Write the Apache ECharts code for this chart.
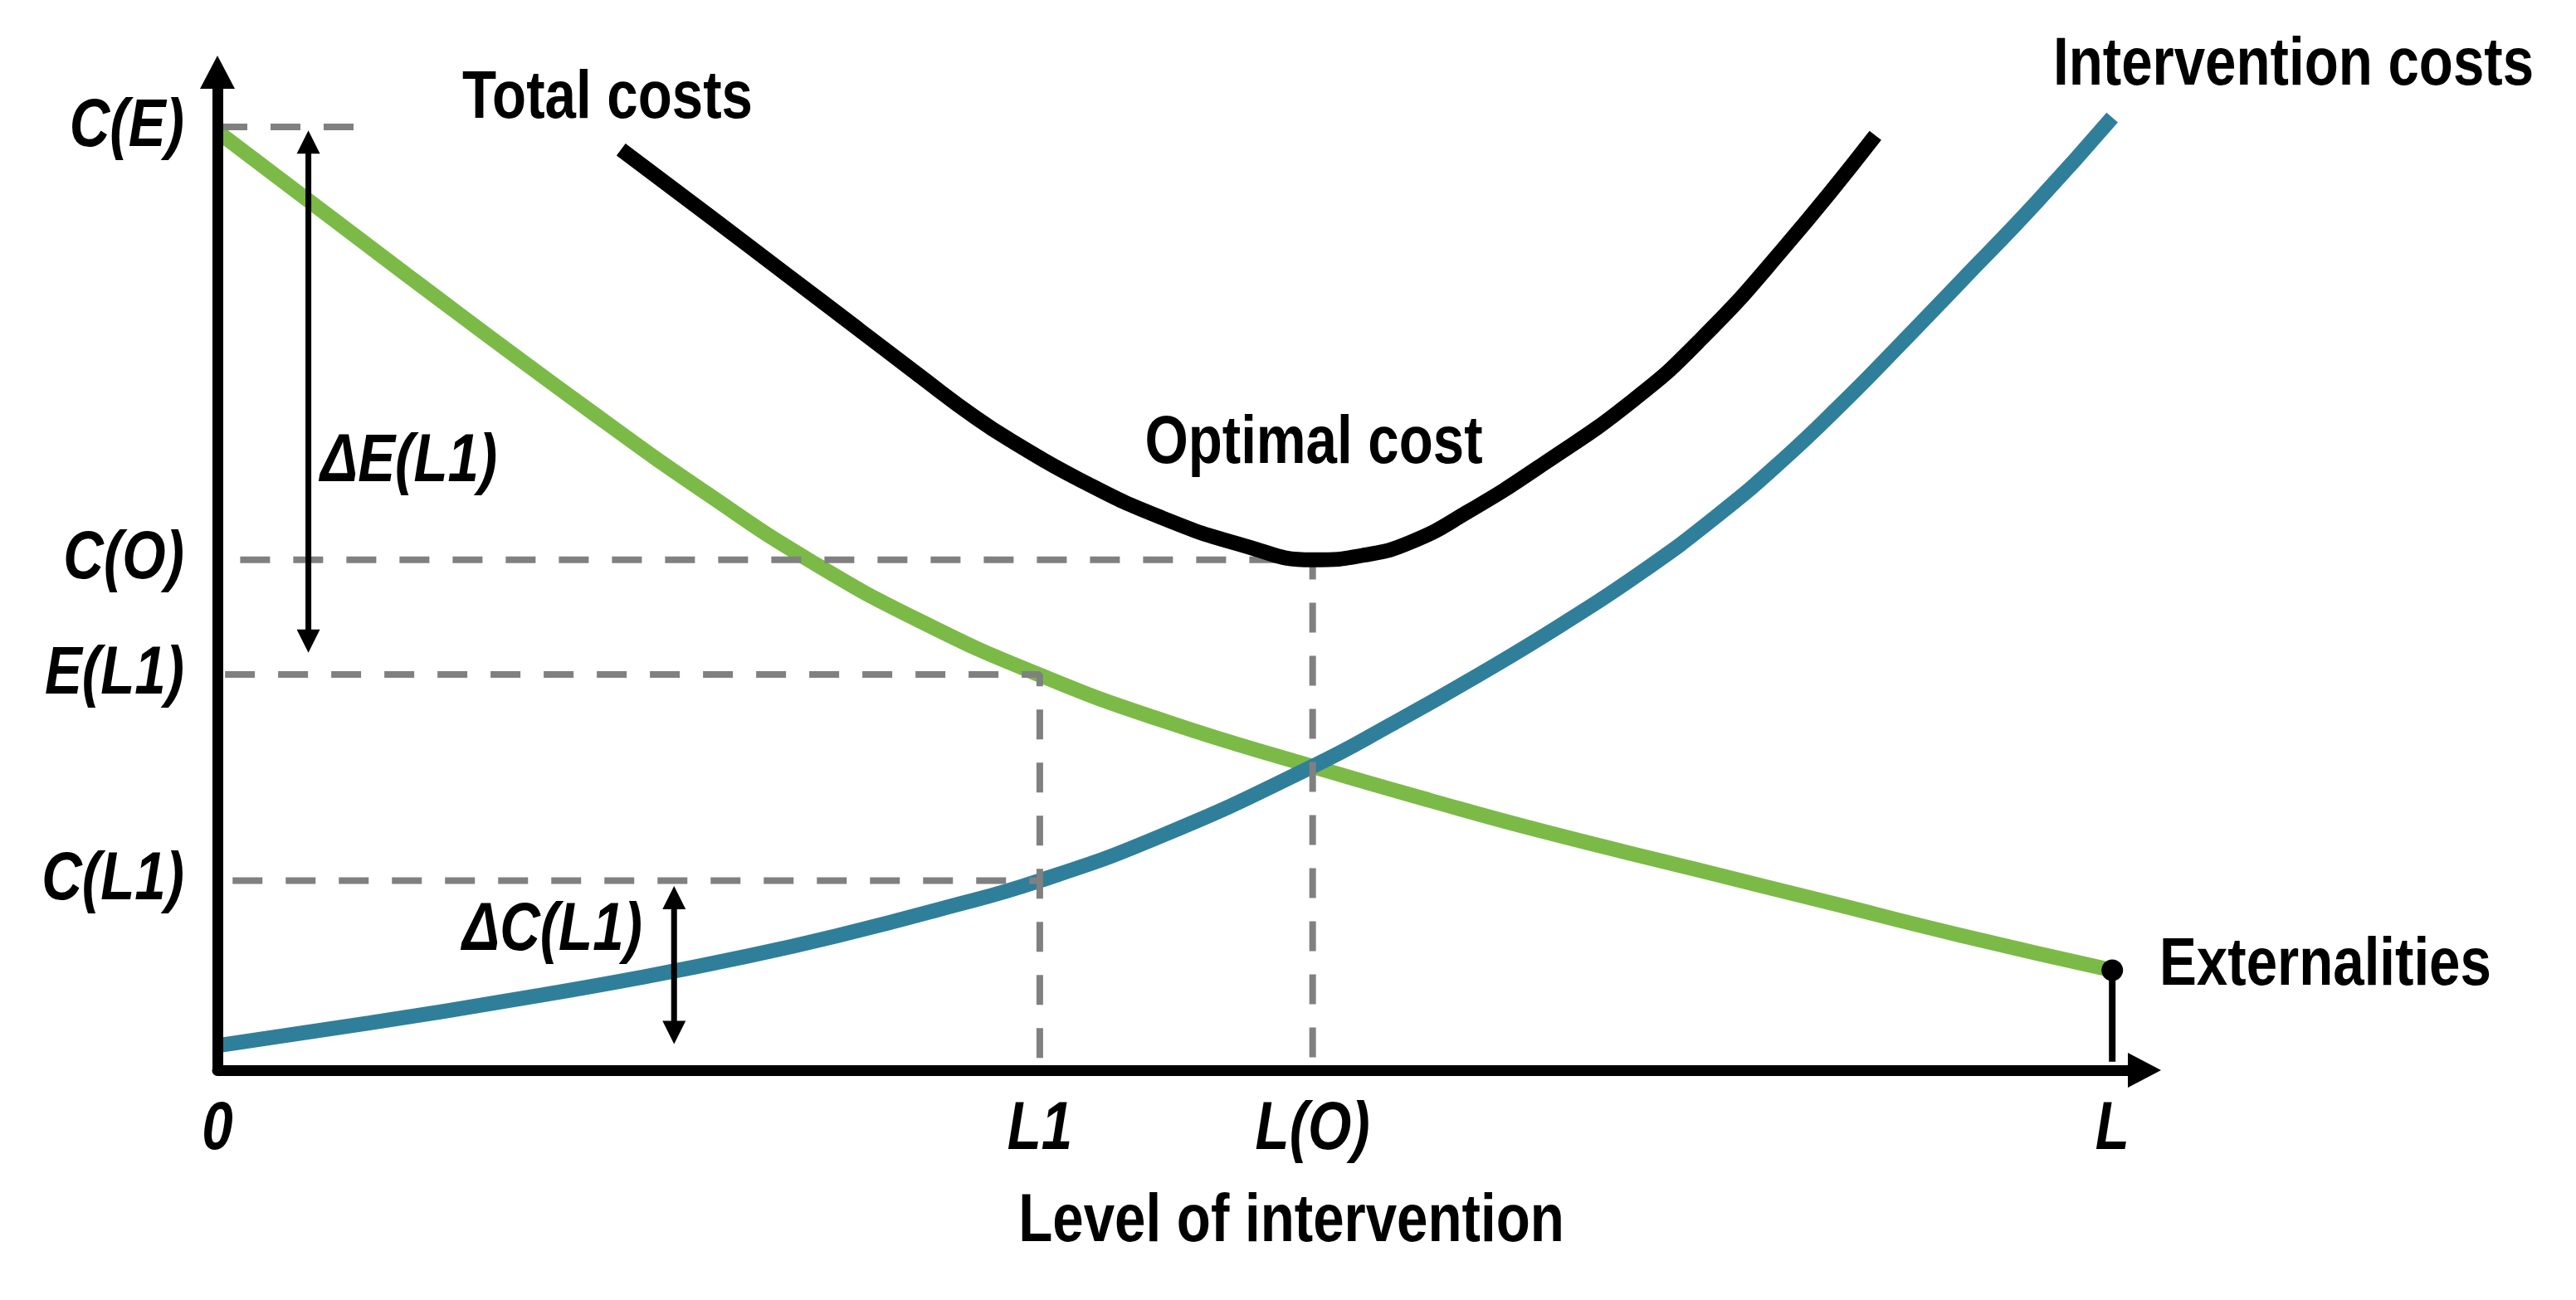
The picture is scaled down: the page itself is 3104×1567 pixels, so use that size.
<!DOCTYPE html>
<html>
<head>
<meta charset="utf-8">
<script src="https://cdn.jsdelivr.net/npm/echarts@6/dist/echarts.min.js"></script>
<style>
html,body{margin:0;padding:0;background:#fff;}
#chart{width:3104px;height:1567px;}
</style>
</head>
<body>
<div id="chart"></div>
<script>
// ---------- data ----------
const xTickValues = [0, 43.4, 57.8, 100];
const xTickLabels = ['0', 'L1', 'L(O)', 'L'];
const yTickValues = [100, 54.1, 41.95, 20.1];
const yTickLabels = ['C(E)', 'C(O)', 'E(L1)', 'C(L1)'];

const extX = [0, 10, 20, 26, 31.2, 37, 43.4, 50, 57.8, 64, 70, 78, 85, 92, 100];
const extY = [99.5, 84.3, 69.4, 60.9, 54.1, 47.7, 41.9, 37.0, 32.2, 28.6, 25.3, 21.3, 17.8, 14.3, 10.6];

const intX = [0, 8, 16, 22.25, 28, 33, 38, 43.4, 50, 57.8, 62, 66.6, 71, 75.3, 79.1, 82.5, 85.8, 88.5, 92, 96, 100];
const intY = [2.6, 5.0, 7.6, 9.8, 12.1, 14.4, 17.0, 20.1, 25.0, 32.2, 36.7, 41.95, 47.3, 53.0, 58.7, 64.5, 70.8, 76.3, 83.6, 92.0, 101.0];

const totX = [21.3, 26, 30, 33.8, 37, 40, 42, 45.5, 49.8, 54.2, 57.8, 60.5, 63, 66, 70, 74.7, 78.3, 82.6, 87.5];
const totY = [97.6, 90.5, 84.4, 78.6, 73.7, 69.2, 66.6, 62.6, 58.6, 55.6, 54.1, 54.6, 56.0, 59.2, 64.3, 71.0, 77.5, 87.0, 99.1];

// dashed guides: start x of each horizontal guide (C(E), C(O), E(L1), C(L1))
const guideStartX = [0, 1.2, 0.4, 0.8];
const guideEndCE = 7.2;
const guideBottom = 0.8;

// double arrows (x position, [lower, upper] arrow-head centres)
const dEx = 4.8, dEy = [45.5, 98.4];
const dCx = 24.1, dCy = [4.0, 18.3];
const stemBottom = 0.9;

// ---------- style ----------
const FONT = '"Liberation Sans", Arial, Helvetica, sans-serif';
const NARROW = 0.82;  // Arial-Narrow-like condensing
const GREEN = '#7BBA47', BLUE = '#2F7F9B', GREY = '#808080';
const DASH = [36, 28];

const pairs = (xs, ys) => xs.map((x, i) => [x, ys[i]]);
const [L1, LO, L] = [xTickValues[1], xTickValues[2], xTickValues[3]];
const [CE, CO, EL1, CL1] = yTickValues;

const dashSeries = (data) => ({
  type: 'line', data, showSymbol: false, silent: true, z: 3,
  lineStyle: { color: GREY, width: 8, type: DASH, cap: 'butt' }
});

const arrowSeries = (x, ys) => ({
  type: 'line', silent: true, z: 6,
  data: [
    { value: [x, ys[0]], symbol: 'triangle', symbolRotate: 180 },
    { value: [x, ys[1]], symbol: 'triangle', symbolRotate: 0 }
  ],
  showSymbol: true, symbolSize: [28, 28],
  itemStyle: { color: '#000', borderWidth: 0 },
  lineStyle: { color: '#000', width: 7 }
});

const curve = (name, xs, ys, color, z) => ({
  type: 'line', name, data: pairs(xs, ys), smooth: 0.5,
  showSymbol: false, silent: true, z, lineStyle: { color, width: 18, cap: 'butt' }
});

const txt = (text, x, y, align, italic) => ({
  type: 'text', x, y, z: 20, silent: true, scaleX: NARROW,
  style: { text, align, verticalAlign: 'middle', fontFamily: FONT, fontSize: 82,
           fontWeight: 'bold', fontStyle: italic ? 'italic' : 'normal', fill: '#000' }
});

const chart = echarts.init(document.getElementById('chart'), null, { renderer: 'canvas' });
const axisCommon = {
  type: 'value', min: 0, z: 5,
  axisLine: { show: true, onZero: false, symbol: ['none', 'triangle'], symbolSize: [42, 40],
    lineStyle: { color: '#000', width: 13, cap: 'round' } },
  axisTick: { show: false }, splitLine: { show: false }, axisLabel: { show: false }
};
chart.setOption({
  animation: false,
  backgroundColor: '#fff',
  grid: { left: 262, right: 520, top: 87, bottom: 277 },
  xAxis: Object.assign({}, axisCommon, { max: 101.7 }),
  yAxis: Object.assign({}, axisCommon, { max: 105.8 }),
  series: [
    curve('Externalities', extX, extY, GREEN, 2),
    curve('Intervention costs', intX, intY, BLUE, 2),
    dashSeries([[guideStartX[0], CE], [guideEndCE, CE]]),
    dashSeries([[guideStartX[1], CO], [LO, CO], [LO, guideBottom]]),
    dashSeries([[guideStartX[2], EL1], [L1, EL1], [L1, guideBottom]]),
    dashSeries([[guideStartX[3], CL1], [L1, CL1]]),
    curve('Total costs', totX, totY, '#000', 4),
    arrowSeries(dEx, dEy),
    arrowSeries(dCx, dCy),
    { type: 'line', silent: true, z: 6,
      data: [
        { value: [L, extY[extY.length - 1]], symbol: 'circle', symbolSize: 26 },
        { value: [L, stemBottom], symbol: 'none' }
      ],
      showSymbol: true, itemStyle: { color: '#000', borderWidth: 0 },
      lineStyle: { color: '#000', width: 8 } }
  ]
});

// tick labels anchored to their axis values, plus free annotations
const toPx = (x, y) => chart.convertToPixel({ gridIndex: 0 }, [x, y]);
const graphics = [];
yTickValues.forEach((v, i) => {
  const p = toPx(0, v);
  graphics.push(txt(yTickLabels[i], p[0] - 40, p[1], 'right', true));
});
xTickValues.forEach((v, i) => {
  const p = toPx(v, 0);
  graphics.push(txt(xTickLabels[i], p[0], p[1] + 72, 'center', true));
});
graphics.push(
  txt('Total costs', 557, 119, 'left', false),
  txt('Intervention costs', 2474, 79, 'left', false),
  txt('Optimal cost', 1583, 535, 'center', false),
  txt('Externalities', 2602, 1164, 'left', false),
  txt('Level of intervention', 1556, 1473, 'center', false),
  txt('\u0394E(L1)', 386, 557, 'left', true),
  txt('\u0394C(L1)', 557, 1122, 'left', true)
);
chart.setOption({ graphic: graphics });
</script>
</body>
</html>
